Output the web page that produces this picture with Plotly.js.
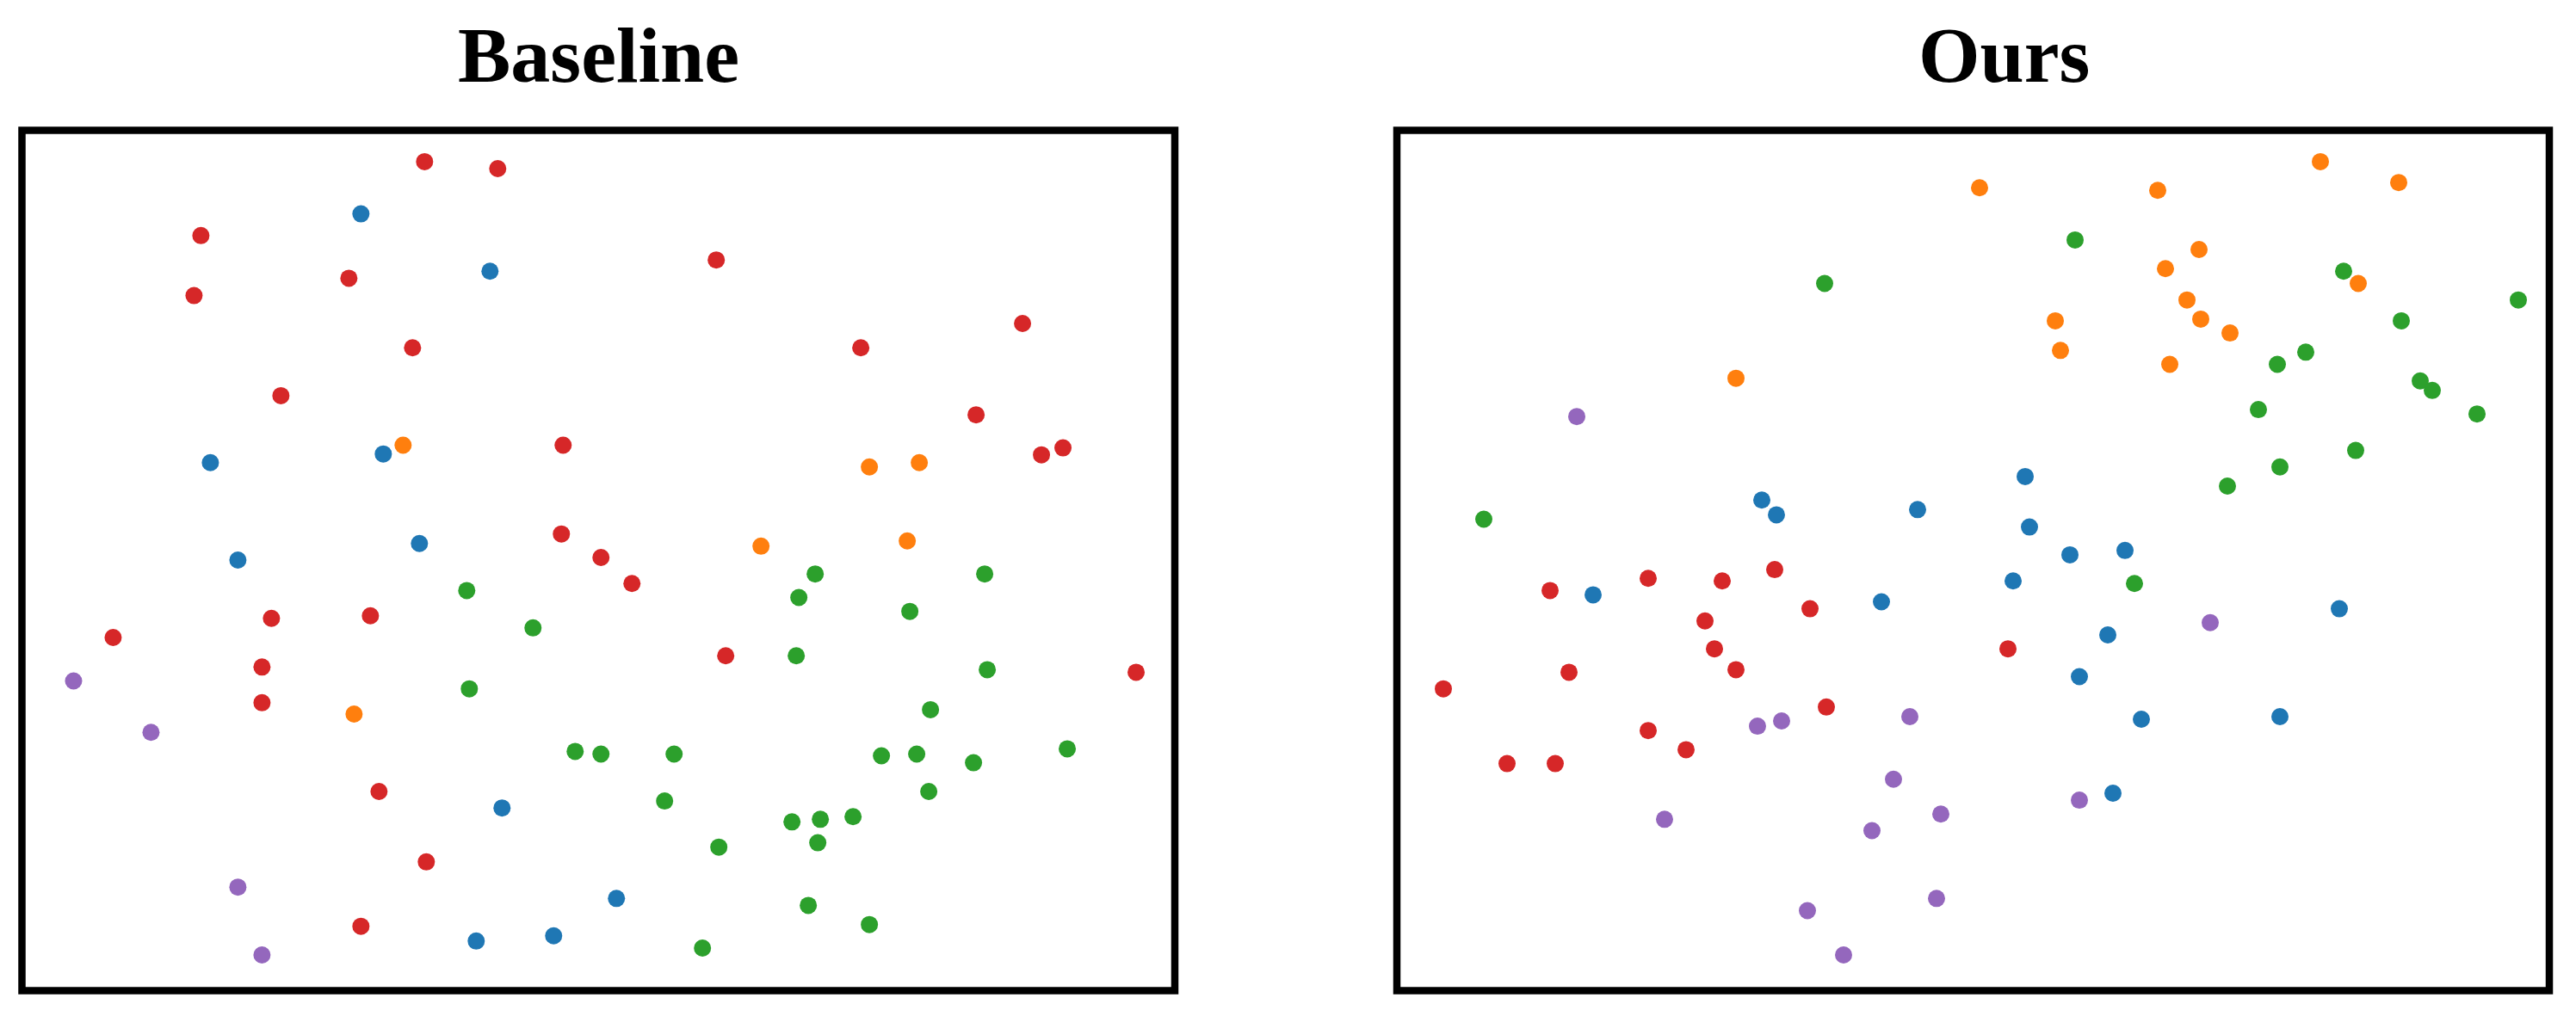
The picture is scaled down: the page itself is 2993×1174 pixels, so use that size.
<!DOCTYPE html>
<html>
<head>
<meta charset="utf-8">
<script src="https://cdn.plot.ly/plotly-3.0.1.min.js"></script>
<style>
  html, body { margin: 0; padding: 0; background: #fff; }
  #chart { width: 2993px; height: 1174px; }
</style>
</head>
<body>
<div id="chart"></div>
<script>
// embedding coordinates (x: 0..1340, y: 0..989)
var classNames = ["class 0", "class 1", "class 2", "class 3", "class 4"];
var classColors = ["#1f77b4", "#ff7f0e", "#2ca02c", "#d62728", "#9467bd"];

// Baseline panel
var baseBlueX = [394, 544, 219, 420, 462, 251, 558, 691, 528, 618];
var baseBlueY = [893, 827, 607, 617, 514, 495, 210, 106, 57, 63];
var baseOrangeX = [443, 985, 1043, 859, 1029, 386];
var baseOrangeY = [627, 602, 607, 511, 517, 318];
var baseGreenX = [517, 594, 520, 643, 673, 922, 1119, 903, 1032, 900, 1122, 1056, 758, 999, 1040, 1106, 1215, 1054, 747, 895, 928, 966, 925, 810, 914, 985, 791];
var baseGreenY = [460, 417, 347, 275, 272, 479, 479, 452, 436, 385, 369, 323, 272, 270, 272, 262, 278, 229, 218, 194, 197, 200, 170, 165, 98, 76, 49];
var baseRedX = [468, 553, 208, 380, 200, 454, 301, 629, 627, 673, 807, 1163, 975, 1109, 1185, 1210, 290, 405, 106, 279, 279, 415, 470, 394, 709, 818, 1295];
var baseRedY = [953, 945, 868, 819, 799, 739, 684, 627, 525, 498, 840, 767, 739, 662, 616, 624, 428, 431, 406, 372, 331, 229, 148, 74, 468, 385, 366];
var basePurpleX = [60, 150, 251, 279];
var basePurpleY = [356, 297, 119, 41];

// Ours panel
var oursBlueX = [424, 441, 605, 730, 735, 782, 846, 228, 563, 716, 1095, 826, 793, 865, 1026, 832];
var oursBlueY = [564, 547, 553, 591, 533, 501, 506, 455, 447, 471, 439, 409, 361, 312, 315, 227];
var oursOrangeX = [677, 884, 1073, 1164, 932, 893, 1117, 918, 765, 934, 968, 771, 898, 394];
var oursOrangeY = [923, 920, 953, 929, 852, 830, 813, 794, 770, 772, 756, 736, 720, 704];
var oursGreenX = [497, 101, 788, 1100, 1303, 1167, 1056, 1023, 1189, 1203, 1001, 1255, 1114, 1026, 965, 857];
var oursGreenY = [813, 542, 863, 827, 794, 770, 734, 720, 701, 690, 668, 663, 621, 602, 580, 468];
var oursRedX = [439, 292, 378, 178, 480, 358, 369, 394, 200, 54, 499, 292, 336, 128, 184, 710];
var oursRedY = [484, 474, 471, 460, 439, 425, 393, 369, 366, 347, 326, 299, 277, 261, 261, 393];
var oursPurpleX = [209, 596, 419, 447, 577, 311, 632, 552, 477, 627, 519, 945, 793];
var oursPurpleY = [660, 315, 304, 310, 243, 197, 203, 184, 92, 106, 41, 423, 219];

var W = 2993, H = 1174;

function scatter(xs, ys, k, xa, ya) {
  return {
    x: xs, y: ys, type: "scatter", mode: "markers",
    name: classNames[k], xaxis: xa, yaxis: ya,
    marker: { color: classColors[k], size: 20, line: { width: 0 } },
    cliponaxis: false, showlegend: false, hoverinfo: "skip"
  };
}

var data = [
  scatter(baseOrangeX, baseOrangeY, 1, "x", "y"),
  scatter(baseBlueX, baseBlueY, 0, "x", "y"),
  scatter(baseGreenX, baseGreenY, 2, "x", "y"),
  scatter(baseRedX, baseRedY, 3, "x", "y"),
  scatter(basePurpleX, basePurpleY, 4, "x", "y"),
  scatter(oursBlueX, oursBlueY, 0, "x2", "y2"),
  scatter(oursGreenX, oursGreenY, 2, "x2", "y2"),
  scatter(oursOrangeX, oursOrangeY, 1, "x2", "y2"),
  scatter(oursRedX, oursRedY, 3, "x2", "y2"),
  scatter(oursPurpleX, oursPurpleY, 4, "x2", "y2")
];

// hidden axes, the frame is drawn with shapes
function axis(dom, range, anchor) {
  return {
    domain: dom, range: range, anchor: anchor,
    showgrid: false, zeroline: false, showline: false,
    showticklabels: false, ticks: "", fixedrange: true
  };
}

var yDom = [1 - 1151.5 / H, 1 - 151.5 / H];
var titleFont = { family: "Liberation Serif, Times New Roman, serif", size: 92, color: "#000" };

var layout = {
  width: W, height: H,
  margin: { l: 0, r: 0, t: 0, b: 0 },
  paper_bgcolor: "#fff", plot_bgcolor: "#fff",
  xaxis: axis([25.5 / W, 1365 / W], [0, 1340], "y"),
  yaxis: axis(yDom, [0, 989], "x"),
  xaxis2: axis([1623 / W, 2962 / W], [0, 1339], "y2"),
  yaxis2: axis(yDom, [0, 989], "x2"),
  shapes: [
    { type: "rect", xref: "x domain", yref: "y domain", x0: 0, x1: 1, y0: 0, y1: 1, line: { color: "#000", width: 8.5 } },
    { type: "rect", xref: "x2 domain", yref: "y2 domain", x0: 0, x1: 1, y0: 0, y1: 1, line: { color: "#000", width: 8.5 } }
  ],
  annotations: [
    { text: "<b>Baseline</b>", xref: "paper", yref: "paper", x: 695 / W, y: 1 - 64 / H, xanchor: "center", yanchor: "middle", showarrow: false, font: titleFont },
    { text: "<b>Ours</b>", xref: "paper", yref: "paper", x: 2328 / W, y: 1 - 64 / H, xanchor: "center", yanchor: "middle", showarrow: false, font: titleFont }
  ]
};

Plotly.newPlot("chart", data, layout, { displayModeBar: false, staticPlot: true });
</script>
</body>
</html>
